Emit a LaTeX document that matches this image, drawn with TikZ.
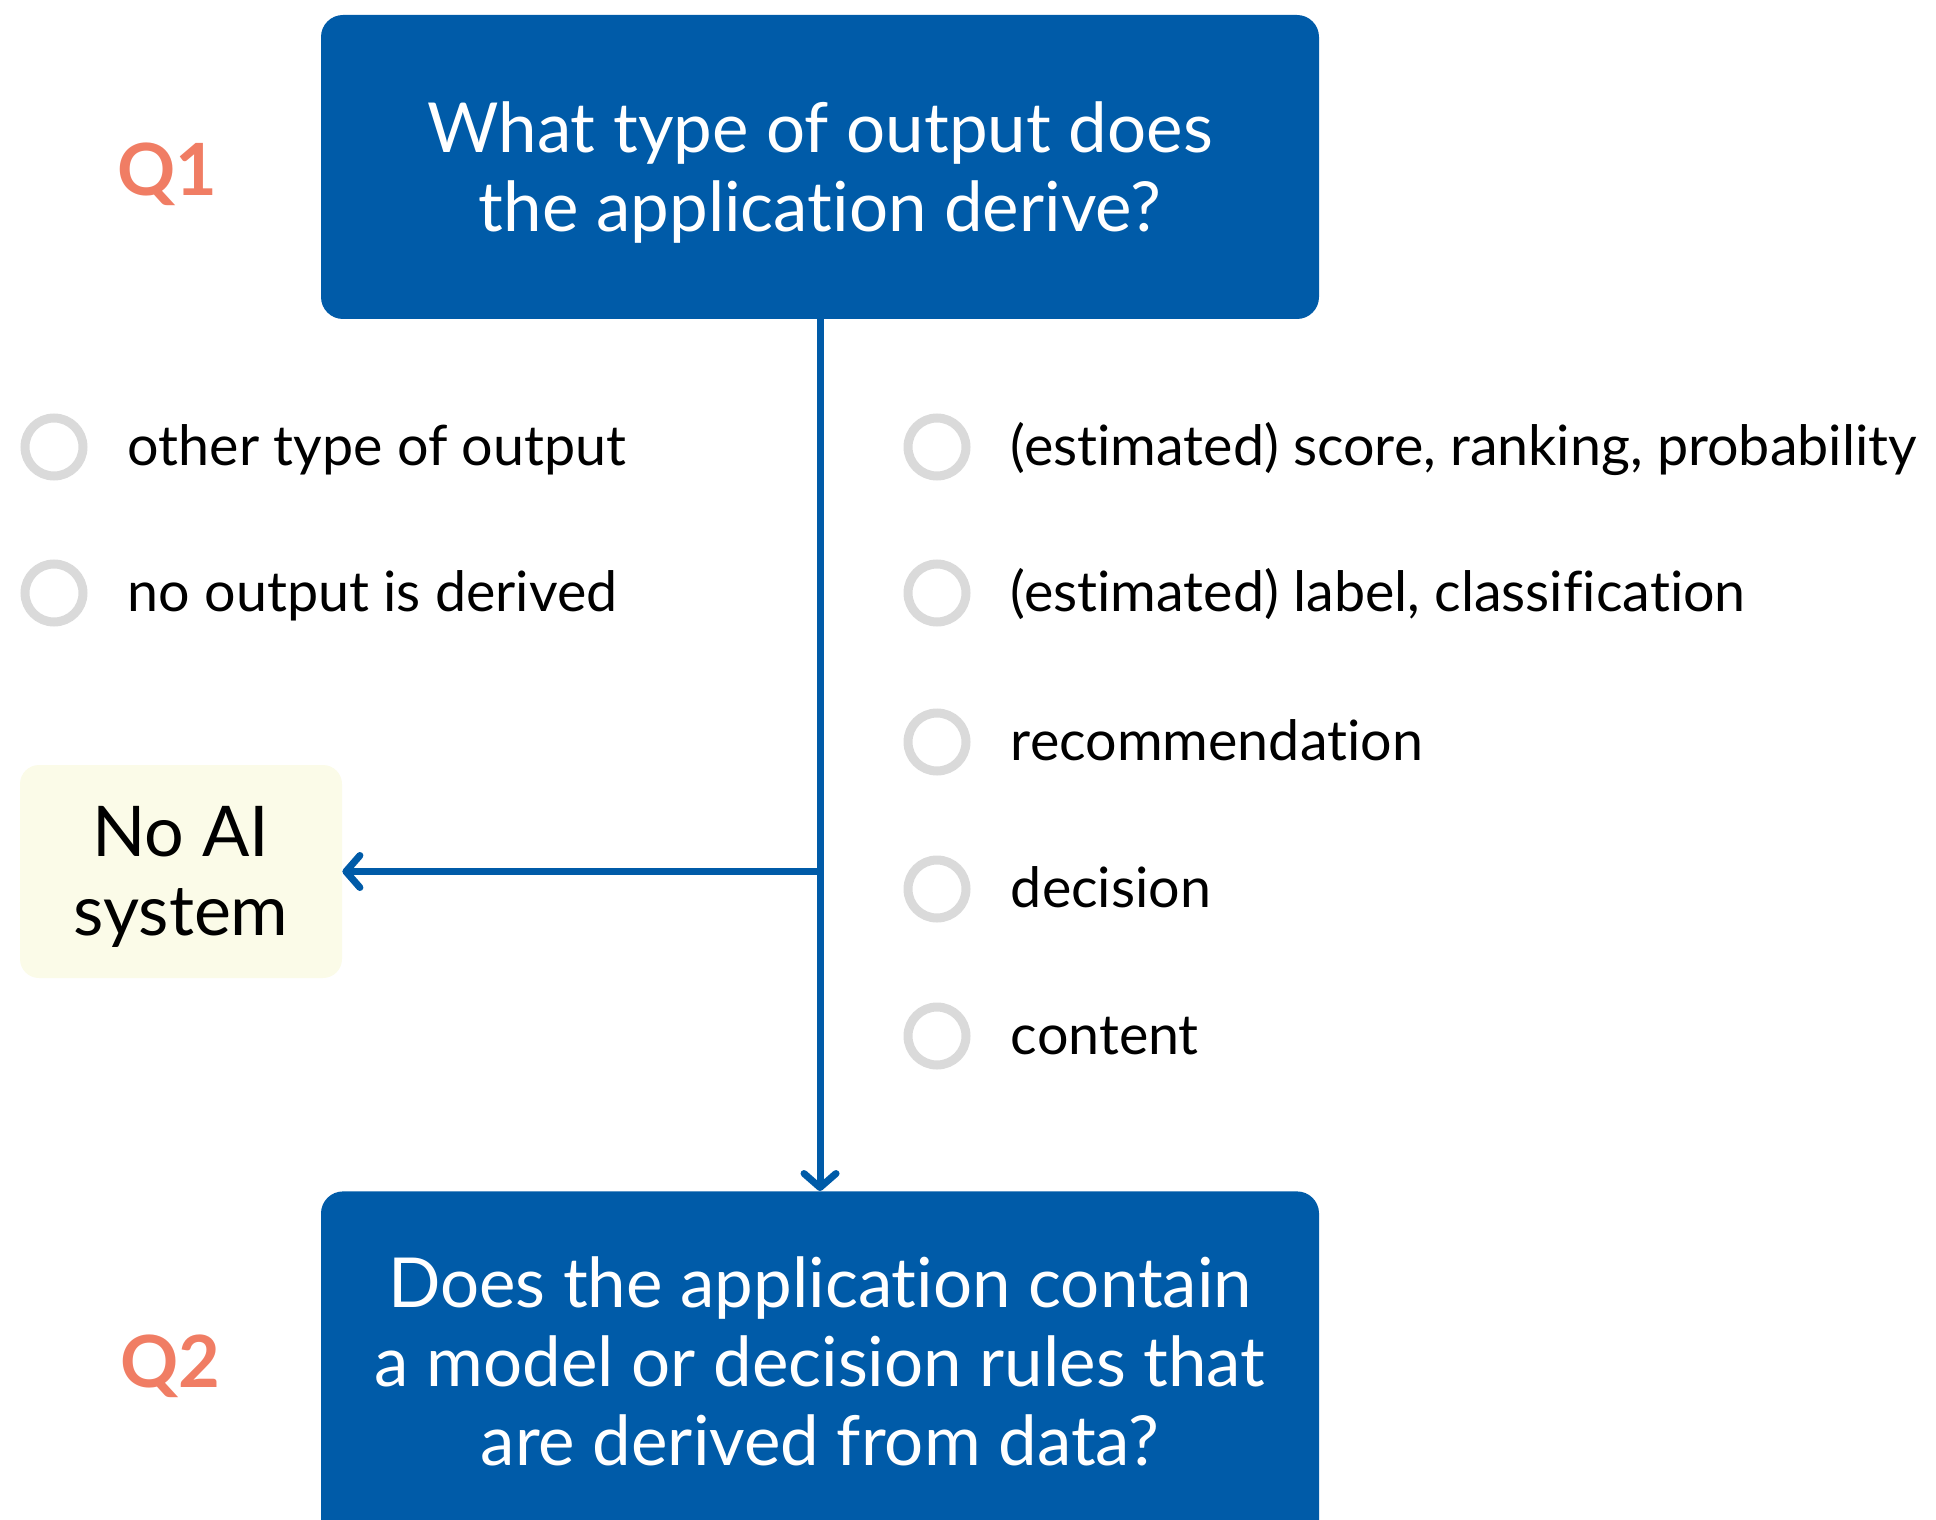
\documentclass[tikz,border=0pt]{standalone}
\usepackage{fontspec}
\setmainfont{Lato}[Ligatures=NoCommon]
\usepackage{tikz}
\usetikzlibrary{positioning, arrows.meta}
\definecolor{qblue}{RGB}{0, 91, 168}
\definecolor{qcoral}{RGB}{240, 125, 100}
\definecolor{cream}{RGB}{251, 251, 232}
\definecolor{ringgray}{RGB}{218, 218, 218}
\tikzset{
    qbox/.style={rectangle, rounded corners=11pt, fill=qblue, minimum width=499pt, minimum height=152pt},
    qtext/.style={text=white, align=center, inner sep=0pt, font=\fontsize{34.5}{39.5}\selectfont},
    qlabel/.style={text=qcoral, font=\fontsize{36}{40}\selectfont\bfseries},
    endbox/.style={rectangle, rounded corners=9.5pt, fill=cream, minimum width=161pt, minimum height=106.5pt},
    endtext/.style={align=center, inner sep=0pt, font=\fontsize{35}{39.5}\selectfont},
    radio/.style={circle, draw=ringgray, line width=4.5pt, minimum size=29pt, inner sep=0pt},
    opt/.style={inner sep=0pt, font=\fontsize{27.8}{33}\selectfont},
    conn/.style={-{Straight Barb[length=7pt, width=16pt, round]}, qblue, line width=3.5pt},
}

\begin{document}
\begin{tikzpicture}[x=0.5pt, y=-0.5pt]
    \useasboundingbox (0,0) rectangle (1936,1519);

    \node [qbox] (q1box) at (820,167) {};
    \node [qtext] (q1text) at (820,173) {What type of output does\\the application derive?};
    \node [qlabel] (q1) at (167,174) {Q1};

    \begin{scope}
        \clip (0,0) rectangle (1936,1519);
        \node [qbox, minimum height=179pt, anchor=north] (q2box) at (820,1191) {};
    \end{scope}
    \node [qtext] (q2text) at (820,1361) {Does the application contain\\a model or decision rules that\\are derived from data?};
    \node [qlabel] (q2) at (170,1366) {Q2};

    \node [endbox] (noai) at (181,871.5) {};
    \node [endtext] (noaitext) at (181,877) {No AI\\system};

    % answers leading to no AI system
    \node [radio] (o1) at (54,447) {};
    \node [opt, right=20pt of o1, anchor=mid west, yshift=-6.5pt] (t1) {other type of output};
    \node [radio] (o2) at (54,593) {};
    \node [opt, right=20pt of o2, anchor=mid west, yshift=-6.5pt] (t2) {no output is derived};

    % answers leading to Q2
    \node [radio] (o3) at (937,447) {};
    \node [opt, right=20pt of o3, anchor=mid west, yshift=-6.5pt] (t3) {(estimated) score, ranking, probability};
    \node [radio] (o4) at (937,593) {};
    \node [opt, right=20pt of o4, anchor=mid west, yshift=-6.5pt] (t4) {(estimated) label, classification};
    \node [radio] (o5) at (937,742) {};
    \node [opt, right=20pt of o5, anchor=mid west, yshift=-6.5pt] (t5) {recommendation};
    \node [radio] (o6) at (937,889) {};
    \node [opt, right=20pt of o6, anchor=mid west, yshift=-6.5pt] (t6) {decision};
    \node [radio] (o7) at (937,1036) {};
    \node [opt, right=20pt of o7, anchor=mid west, yshift=-6.5pt] (t7) {content};

    \coordinate (split) at (q1box.south |- noai.east);
    \draw[conn] (q1box.south) -- (q2box.north);
    \draw[conn] (split) -- (noai.east);
\end{tikzpicture}
\end{document}
